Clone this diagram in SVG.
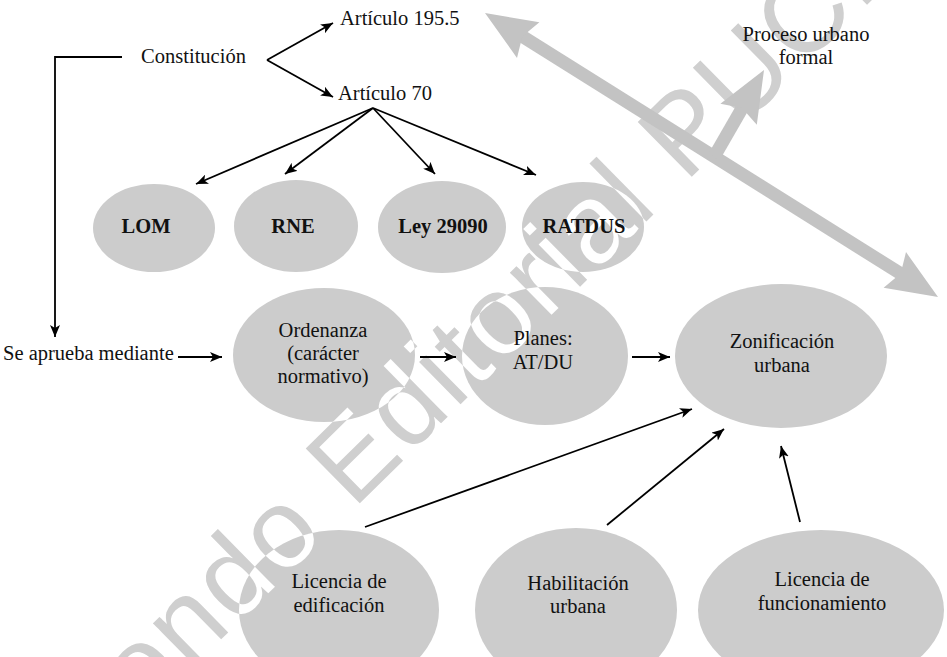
<svg xmlns="http://www.w3.org/2000/svg" xmlns:xlink="http://www.w3.org/1999/xlink" width="947" height="657" viewBox="0 0 947 657">
  <style>
    .t { font-family: "Liberation Serif", "Times New Roman", serif; font-size: 20.5px; fill: #111; }
    .c { text-anchor: middle; }
    .b { font-weight: bold; }
    .under { fill: #ffffff; }
    .node { fill: #cccccc; mask: url(#wm); }
    .conn { fill: none; stroke: #000; stroke-width: 1.8; marker-end: url(#ah); }
    .big { fill: #c3c3c3; }
    .bigshaft { stroke: #c3c3c3; stroke-width: 13; fill: none; }
    .wmtext { font-family: "Liberation Sans", Arial, sans-serif; font-size: 112px; letter-spacing: 3px; }
  </style>
  <defs>
    <text id="wmt" class="wmtext" transform="translate(91.6,766.8) rotate(-44.5)" x="0" y="0">Fondo Editorial PUCP</text>
    <mask id="wm" maskUnits="userSpaceOnUse" x="0" y="0" width="947" height="657">
      <rect x="0" y="0" width="947" height="657" fill="#fff"/>
      <use xlink:href="#wmt" fill="#000"/>
    </mask>
    <marker id="ah" markerUnits="userSpaceOnUse" markerWidth="14" markerHeight="10" refX="12" refY="5" orient="auto">
      <path d="M0,0 L12,5 L0,10 L3,5 z" fill="#000"/>
    </marker>
  </defs>
  <rect x="0" y="0" width="947" height="657" fill="#fff"/>

  <!-- watermark -->
  <g id="watermark">
    <use xlink:href="#wmt" fill="#cfcfcf"/>
  </g>

  <!-- large grey arrows -->
  <g id="process-arrows">
    <line class="bigshaft" x1="518.9" y1="34.2" x2="904.1" y2="275.8"/>
    <polygon class="big" points="485,13 539.4,22.3 522.3,36.4 517,57.9"/>
    <polygon class="big" points="938,297 883.6,287.7 900.7,273.6 906,252.1"/>
    <line class="bigshaft" x1="714" y1="157" x2="744.1" y2="104.7"/>
    <polygon class="big" points="764,70 756.8,124.7 742.1,108.1 720.4,103.7"/>
  </g>

  <!-- nodes -->
  <g id="constitucion"><text class="t c" x="193.5" y="63">Constitución</text></g>
  <g id="articulo-195-5"><text class="t" x="340" y="25">Artículo 195.5</text></g>
  <g id="articulo-70"><text class="t" x="338" y="100">Artículo 70</text></g>
  <g id="proceso-urbano"><text class="t c" x="806" y="41">Proceso urbano</text><text class="t c" x="806" y="64">formal</text></g>
  <g id="se-aprueba"><text class="t" x="3" y="360">Se aprueba mediante</text></g>

  <g id="lom">
    <ellipse class="under" cx="154" cy="228" rx="61" ry="44"/>
    <ellipse class="node" cx="154" cy="228" rx="61" ry="44"/>
    <text class="t c b" x="146" y="233">LOM</text>
  </g>
  <g id="rne">
    <ellipse class="under" cx="296" cy="226" rx="62" ry="46"/>
    <ellipse class="node" cx="296" cy="226" rx="62" ry="46"/>
    <text class="t c b" x="293" y="233">RNE</text>
  </g>
  <g id="ley-29090">
    <ellipse class="under" cx="442" cy="227" rx="64" ry="46"/>
    <ellipse class="node" cx="442" cy="227" rx="64" ry="46"/>
    <text class="t c b" x="443" y="233">Ley 29090</text>
  </g>
  <g id="ratdus">
    <ellipse class="under" cx="583" cy="227" rx="61" ry="45"/>
    <ellipse class="node" cx="583" cy="227" rx="61" ry="45"/>
    <text class="t c b" x="584" y="233">RATDUS</text>
  </g>

  <g id="ordenanza">
    <ellipse class="under" cx="324" cy="355" rx="91" ry="67"/>
    <ellipse class="node" cx="324" cy="355" rx="91" ry="67"/>
    <text class="t c" x="323" y="337">Ordenanza</text>
    <text class="t c" x="323" y="360">(carácter</text>
    <text class="t c" x="323" y="383">normativo)</text>
  </g>
  <g id="planes">
    <ellipse class="under" cx="545" cy="356" rx="83" ry="69"/>
    <ellipse class="node" cx="545" cy="356" rx="83" ry="69"/>
    <text class="t c" x="543" y="345">Planes:</text>
    <text class="t c" x="543" y="369">AT/DU</text>
  </g>
  <g id="zonificacion">
    <ellipse class="under" cx="781" cy="356" rx="106" ry="72"/>
    <ellipse class="node" cx="781" cy="356" rx="106" ry="72"/>
    <text class="t c" x="782" y="348">Zonificación</text>
    <text class="t c" x="782" y="372">urbana</text>
  </g>

  <g id="licencia-edificacion">
    <ellipse class="under" cx="339" cy="610" rx="100" ry="80"/>
    <ellipse class="node" cx="339" cy="610" rx="100" ry="80"/>
    <text class="t c" x="339" y="588">Licencia de</text>
    <text class="t c" x="339" y="612">edificación</text>
  </g>
  <g id="habilitacion-urbana">
    <ellipse class="under" cx="576" cy="610" rx="101" ry="82"/>
    <ellipse class="node" cx="576" cy="610" rx="101" ry="82"/>
    <text class="t c" x="578" y="590">Habilitación</text>
    <text class="t c" x="578" y="613">urbana</text>
  </g>
  <g id="licencia-funcionamiento">
    <ellipse class="under" cx="821" cy="610" rx="123" ry="80"/>
    <ellipse class="node" cx="821" cy="610" rx="123" ry="80"/>
    <text class="t c" x="822" y="586">Licencia de</text>
    <text class="t c" x="822" y="610">funcionamiento</text>
  </g>

  <!-- connectors -->
  <g id="connectors">
    <path class="conn" d="M122,57 H55 V337"/>
    <path class="conn" d="M267,60 L333,23"/>
    <path class="conn" d="M267,60 L333,97"/>
    <path class="conn" d="M373,108 L196,184"/>
    <path class="conn" d="M373,108 L285,174"/>
    <path class="conn" d="M373,108 L435,174"/>
    <path class="conn" d="M373,108 L536,175"/>
    <path class="conn" d="M178,357 L222,357"/>
    <path class="conn" d="M420,357 L456,357"/>
    <path class="conn" d="M632,357 L670,357"/>
    <path class="conn" d="M365,527 L692,409"/>
    <path class="conn" d="M607,525 L724,429"/>
    <path class="conn" d="M800,522 L781,446"/>
  </g>
</svg>
